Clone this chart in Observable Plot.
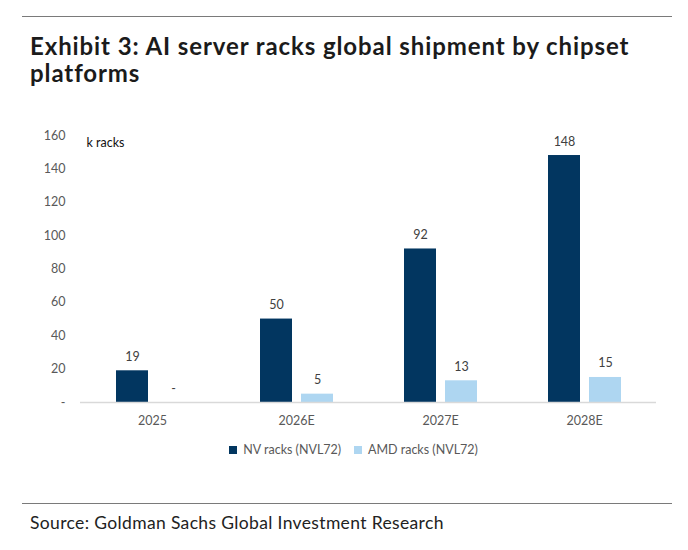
<!DOCTYPE html>
<html>
<head>
<meta charset="utf-8">
<script src="https://cdn.jsdelivr.net/npm/d3@7"></script>
<script src="https://cdn.jsdelivr.net/npm/@observablehq/plot@0.6"></script>
<style>
  html, body { margin: 0; padding: 0; background: #fff; }
  body { width: 688px; height: 550px; position: relative; font-family: Lato, "Open Sans", sans-serif; }
  .rule { position: absolute; left: 22px; width: 650px; height: 0; border-top: 1.5px solid #7a7a7a; }
  #title { position: absolute; left: 30px; top: 32px; width: 600px; font-weight: 700; font-size: 24px; line-height: 27px; color: #1b1b1b; letter-spacing: 0.9px; }
  #chart { position: absolute; left: 0; top: 110px; }
  #legend { position: absolute; top: 433px; left: 229px; }
  #source { position: absolute; left: 30px; top: 512px; font-size: 17.5px; color: #222; letter-spacing: 0.35px; }
</style>
</head>
<body>
<div class="rule" style="top:16px"></div>
<div id="title">Exhibit 3: AI server racks global shipment by chipset platforms</div>
<div id="chart"></div>
<div id="legend"></div>
<div class="rule" style="top:503px"></div>
<div id="source">Source: Goldman Sachs Global Investment Research</div>
<script>
const years = ["2025", "2026E", "2027E", "2028E"];
const series = ["NV racks (NVL72)", "AMD racks (NVL72)"];
const nvRacks = [19, 50, 92, 148];
const amdRacks = [0, 5, 13, 15];
const colors = ["#023660", "#aed6f1"];
const yTicks = [0, 20, 40, 60, 80, 100, 120, 140, 160];
const unitLabel = "k racks";

const data = [];
years.forEach((y, i) => {
  data.push({year: y, series: series[0], value: nvRacks[i]});
  data.push({year: y, series: series[1], value: amdRacks[i]});
});

const fmt = v => v === 0 ? "-" : String(v);

const chart = Plot.plot({
  width: 688,
  height: 325,
  marginTop: 25,
  marginBottom: 33,
  marginLeft: 80,
  marginRight: 32,
  style: {fontFamily: "Lato, 'Open Sans', sans-serif", fontSize: "12.5px", color: "#595959", background: "#fff"},
  fx: {domain: years, padding: 0, label: null, tickSize: 0, tickPadding: 14},
  x: {domain: series, paddingInner: 0.22, paddingOuter: 0.866, axis: null},
  y: {domain: [0, 160], ticks: yTicks, tickFormat: fmt, tickSize: 0, tickPadding: 15, label: null},
  color: {domain: series, range: colors},
  marks: [
    Plot.barY(data, {fx: "year", x: "series", y: "value", fill: "series"}),
    Plot.ruleY([0], {stroke: "#d9d9d9", strokeWidth: 1.5}),
    Plot.text(data, {fx: "year", x: "series", y: "value", text: d => fmt(d.value), dy: -14, fill: "#404040", fontSize: 12.5}),
    Plot.text([{year: years[0]}], {fx: "year", text: () => unitLabel, frameAnchor: "top-left", dx: 6, dy: 3, fill: "#111", fontSize: 12.5})
  ]
});
document.getElementById("chart").appendChild(chart);

const legend = Plot.legend({
  color: {domain: series, range: colors},
  legend: "swatches",
  swatchSize: 8,
  style: {fontFamily: "Lato, 'Open Sans', sans-serif", fontSize: "12.5px", color: "#595959"}
});
document.getElementById("legend").appendChild(legend);
</script>
</body>
</html>
